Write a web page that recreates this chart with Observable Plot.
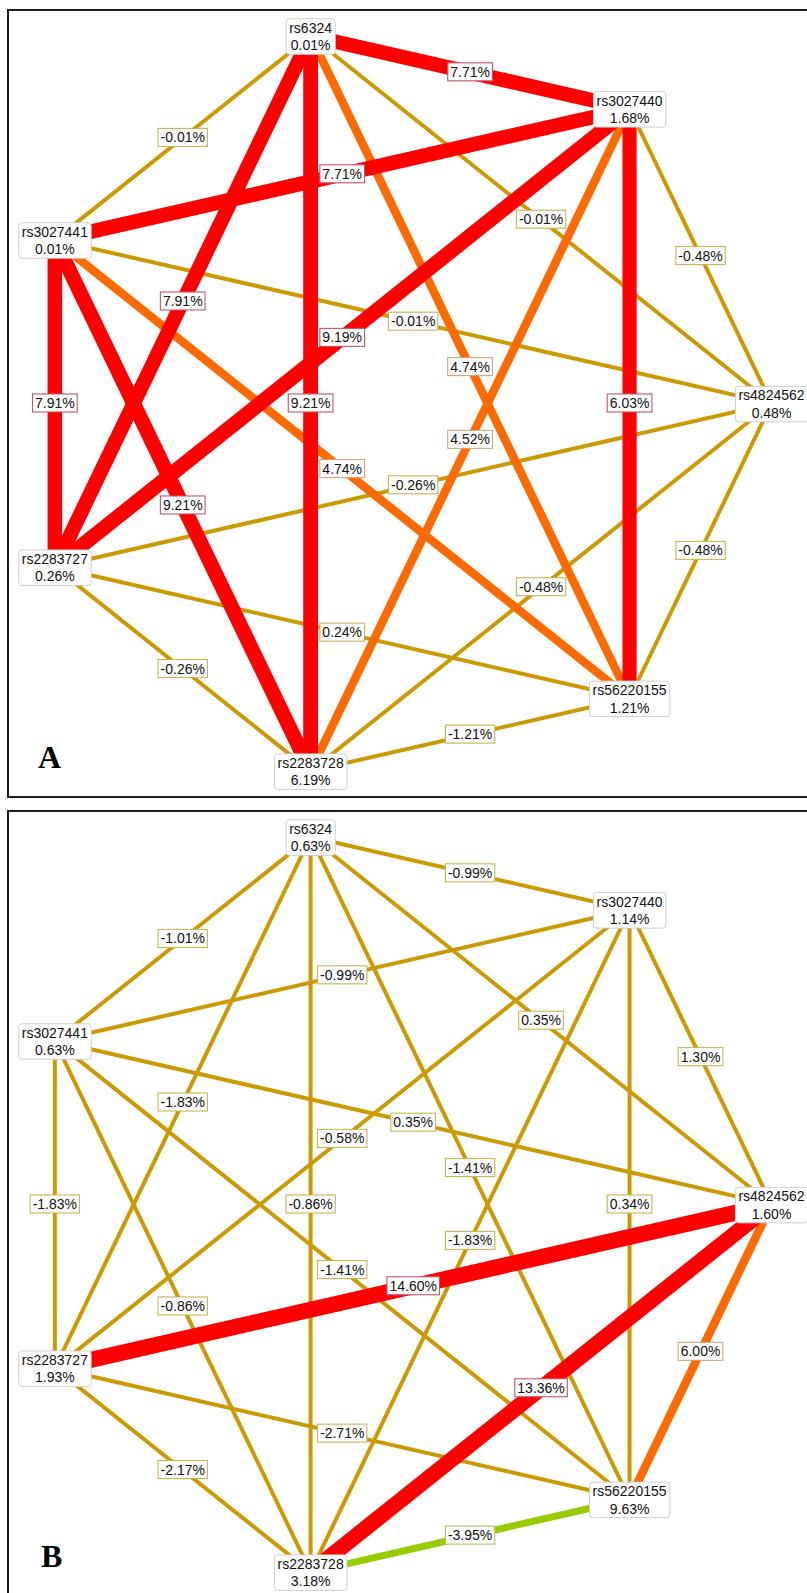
<!DOCTYPE html>
<html>
<head>
<meta charset="utf-8">
<script src="https://cdn.jsdelivr.net/npm/d3@7"></script>
<script src="https://cdn.jsdelivr.net/npm/@observablehq/plot@0.6"></script>
<style>
html, body { margin: 0; padding: 0; background: #fff; }
#page { position: relative; width: 807px; height: 1593px; overflow: hidden; background: #fff; }
.panel { position: absolute; left: 0; }
.frame { position: absolute; border: 0 solid #1c1c1c; box-sizing: border-box; }
.letter { position: absolute; font-family: "Liberation Serif", "Times New Roman", serif; font-weight: bold; font-size: 32px; line-height: 32px; color: #000; }
</style>
</head>
<body>
<div id="page">
  <div class="frame" style="left:7px;top:9px;width:830px;height:789px;border-top-width:2px;border-left-width:2px;border-bottom-width:2px;"></div>
  <div class="frame" style="left:7px;top:810px;width:830px;height:820px;border-top-width:2px;border-left-width:2px;"></div>
  <div id="panelA" class="panel" style="top:0"></div>
  <div id="panelB" class="panel" style="top:801px"></div>
  <div class="letter" style="left:38px;top:741px">A</div>
  <div class="letter" style="left:41px;top:1540px">B</div>
</div>
<script>
// ---- data ----
// nodes in order around the circle (clockwise on screen, starting at the right)
const nodeNames = ["rs4824562", "rs56220155", "rs2283728", "rs2283727", "rs3027441", "rs6324", "rs3027440"];
const nodeValuesA = [0.48, 1.21, 6.19, 0.26, 0.01, 0.01, 1.68];
const nodeValuesB = [1.60, 9.63, 3.18, 1.93, 0.63, 0.63, 1.14];

const edgeFrom = ["rs6324", "rs6324", "rs6324", "rs6324", "rs6324", "rs6324",
  "rs3027440", "rs3027440", "rs3027440", "rs3027440", "rs3027440",
  "rs3027441", "rs3027441", "rs3027441", "rs3027441",
  "rs4824562", "rs4824562", "rs4824562",
  "rs2283727", "rs2283727", "rs56220155"];
const edgeTo = ["rs3027440", "rs3027441", "rs4824562", "rs2283728", "rs2283727", "rs56220155",
  "rs3027441", "rs2283727", "rs2283728", "rs56220155", "rs4824562",
  "rs4824562", "rs2283727", "rs2283728", "rs56220155",
  "rs2283727", "rs56220155", "rs2283728",
  "rs56220155", "rs2283728", "rs2283728"];
const edgeValuesA = [7.71, -0.01, -0.01, 9.21, 7.91, 4.74,
  7.71, 9.19, 4.52, 6.03, -0.48,
  -0.01, 7.91, 9.21, 4.74,
  -0.26, -0.48, -0.48,
  0.24, -0.26, -1.21];
const edgeValuesB = [-0.99, -1.01, 0.35, -0.86, -1.83, -1.41,
  -0.99, -0.58, -1.83, 0.34, 1.30,
  0.35, -1.83, -0.86, -1.41,
  14.60, 6.00, 13.36,
  -2.71, -2.17, -3.95];

const categories = ["independence", "redundancy", "moderate synergy", "strong synergy"];
const categoryColors = ["#cc9a00", "#99cc00", "#ff6a00", "#ff0000"];
const labelBorders = {"independence": "#c8b456", "redundancy": "#b8bc5c", "moderate synergy": "#d2a47c", "strong synergy": "#c0566a"};

// ---- helpers ----
function category(v, max) {
  const r = v / max;
  if (r >= 0.6) return "strong synergy";
  if (r >= 0.35) return "moderate synergy";
  if (r <= -0.25) return "redundancy";
  return "independence";
}
function widthOf(d) {
  if (d.cat === "strong synergy") return 12.8 + 0.22 * d.value;
  if (d.cat === "moderate synergy") return 8.5;
  if (d.cat === "redundancy") return 7;
  return 4;
}
const fmt = v => v.toFixed(2) + "%";
const n = nodeNames.length;
const pos = Object.fromEntries(nodeNames.map((name, i) => {
  const a = i * 2 * Math.PI / n;
  return [name, [Math.cos(a), Math.sin(a)]];
}));
const FONT = "Liberation Sans, Arial, Helvetica, sans-serif";
const svgNS = "http://www.w3.org/2000/svg";

function addBoxes(group, styler) {
  const texts = Array.from(group.querySelectorAll("text"));
  texts.forEach((t, i) => {
    const bb = t.getBBox();
    const r = document.createElementNS(svgNS, "rect");
    const s = styler(i, bb);
    r.setAttribute("x", bb.x - s.px);
    r.setAttribute("y", bb.y - s.py);
    r.setAttribute("width", bb.width + 2 * s.px);
    r.setAttribute("height", bb.height + 2 * s.py);
    r.setAttribute("fill", "#fff");
    r.setAttribute("stroke", s.stroke);
    r.setAttribute("stroke-width", s.sw);
    if (s.rx) r.setAttribute("rx", s.rx);
    const tr = t.getAttribute("transform");
    if (tr) r.setAttribute("transform", tr);
    t.parentNode.insertBefore(r, t);
  });
}

function panel(el, nodeValues, edgeValues, height) {
  const max = d3.max(edgeValues);
  const edges = edgeFrom.map((f, i) => ({from: f, to: edgeTo[i], value: edgeValues[i], cat: category(edgeValues[i], max)}));
  edges.sort((a, b) => d3.ascending(categories.indexOf(a.cat), categories.indexOf(b.cat)) || d3.ascending(Math.abs(a.value), Math.abs(b.value)));
  const nodes = nodeNames.map((name, i) => ({name, value: nodeValues[i], x: pos[name][0], y: pos[name][1]}));

  const plot = Plot.plot({
    width: 807,
    height,
    margin: 0,
    x: {domain: [-1, 1], range: [17, 771], axis: null},
    y: {domain: [-1, 1], range: [26, 780], axis: null},
    color: {domain: categories, range: categoryColors},
    style: {background: "transparent", fontFamily: FONT, overflow: "visible"},
    marks: [
      Plot.link(edges, {
        x1: d => pos[d.from][0], y1: d => pos[d.from][1],
        x2: d => pos[d.to][0], y2: d => pos[d.to][1],
        stroke: "cat", strokeWidth: widthOf, strokeLinecap: "butt"
      }),
      Plot.text(edges, {
        x: d => (pos[d.from][0] + pos[d.to][0]) / 2,
        y: d => (pos[d.from][1] + pos[d.to][1]) / 2,
        text: d => fmt(d.value),
        fontSize: 14, fontFamily: FONT, fill: "#111",
        ariaDescription: "edge-labels"
      }),
      Plot.text(nodes, {
        x: "x", y: "y",
        text: d => d.name + "\n" + fmt(d.value),
        fontSize: 14, fontFamily: FONT, lineHeight: 1.25, fill: "#111",
        ariaDescription: "node-labels"
      })
    ]
  });
  el.appendChild(plot);

  let gEdge = plot.querySelector('g[aria-description="edge-labels"]');
  let gNode = plot.querySelector('g[aria-description="node-labels"]');
  if (!gEdge || !gNode) {
    const gs = plot.querySelectorAll('g[aria-label="text"]');
    gEdge = gs[0]; gNode = gs[1];
  }
  addBoxes(gEdge, i => ({px: 2.5, py: 1, stroke: labelBorders[edges[i].cat], sw: 1.1}));
  addBoxes(gNode, () => ({px: 3, py: 1, stroke: "#cfcfcf", sw: 1, rx: 3}));
}

panel(document.getElementById("panelA"), nodeValuesA, edgeValuesA, 801);
panel(document.getElementById("panelB"), nodeValuesB, edgeValuesB, 792);
</script>
</body>
</html>
